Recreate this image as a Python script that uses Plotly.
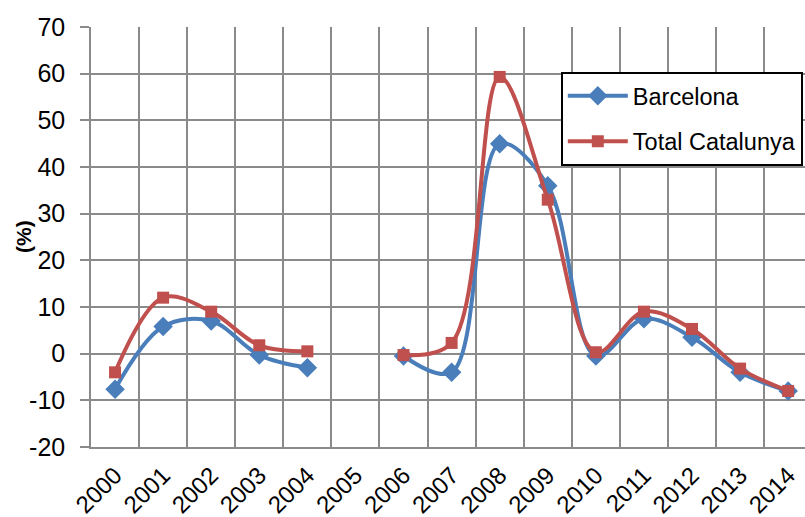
import plotly.graph_objects as go

years = [str(y) for y in range(2000, 2015)]
barcelona = [-7.6, 5.8, 7.0, -0.3, -3.0, None, -0.5, -4.0, 45.0, 36.0, -0.5, 7.5, 3.5, -4.0, -8.0]
catalunya = [-4.0, 12.0, 9.0, 1.8, 0.5, None, -0.3, 2.3, 59.3, 33.0, 0.3, 9.0, 5.3, -3.2, -8.0]
y_ticks = list(range(-20, 80, 10))
y_tick_text = ["-20", "-10", "0", "10", "20", "30", "40", "50", "60", "70"]

FONT = "Liberation Sans, Arial, sans-serif"
GRID = "#8a8a8a"
BLUE = "#4a7ebb"
RED = "#c0504d"

fig = go.Figure()
fig.add_trace(go.Scatter(
    x=years, y=barcelona, name="Barcelona", mode="lines+markers",
    legendgroup="bcn",
    line=dict(color=BLUE, width=4, shape="spline", smoothing=1.0),
    marker=dict(symbol="diamond", size=15, color=BLUE),
    connectgaps=False,
))
fig.add_trace(go.Scatter(
    x=years, y=catalunya, name="Total Catalunya", mode="lines+markers",
    legendgroup="cat",
    line=dict(color=RED, width=4, shape="spline", smoothing=1.0),
    marker=dict(symbol="square", size=12, color=RED),
    connectgaps=False,
))

fig.update_layout(
    width=805, height=517,
    margin=dict(l=91, r=0, t=27, b=70),
    paper_bgcolor="white", plot_bgcolor="white",
    font=dict(family=FONT, size=25, color="black"),
    showlegend=True,
    legend=dict(
        x=0.658, y=0.893, xanchor="left", yanchor="top",
        bgcolor="white", bordercolor="black", borderwidth=2,
        font=dict(family=FONT, size=23.5, color="black"),
        itemwidth=60, traceorder="grouped", tracegroupgap=12,
    ),
    annotations=[dict(
        text="<b>(%)</b>", xref="paper", yref="paper",
        x=-0.0952, y=0.5, xanchor="center", yanchor="middle",
        textangle=-90, showarrow=False,
        font=dict(family=FONT, size=21, color="black"),
    )],
)
fig.update_xaxes(
    type="category", categoryorder="array", categoryarray=years,
    range=[-0.5, 14.35], automargin=False,
    tickson="boundaries", ticks="",
    showgrid=True, gridcolor=GRID, gridwidth=1.5,
    showline=True, linecolor=GRID, linewidth=1.5,
    tickangle=-45, ticklabelstandoff=3,
    tickfont=dict(family=FONT, size=24),
)
fig.update_yaxes(
    range=[-20, 70], tickvals=y_ticks, ticktext=y_tick_text,
    automargin=False,
    showgrid=True, gridcolor=GRID, gridwidth=1.5, zeroline=False,
    showline=True, linecolor=GRID, linewidth=1.5,
    ticks="outside", ticklen=9, tickcolor=GRID, tickwidth=1.5,
    ticklabelstandoff=10,
    tickfont=dict(family=FONT, size=25),
)

fig.write_html("out.html")
